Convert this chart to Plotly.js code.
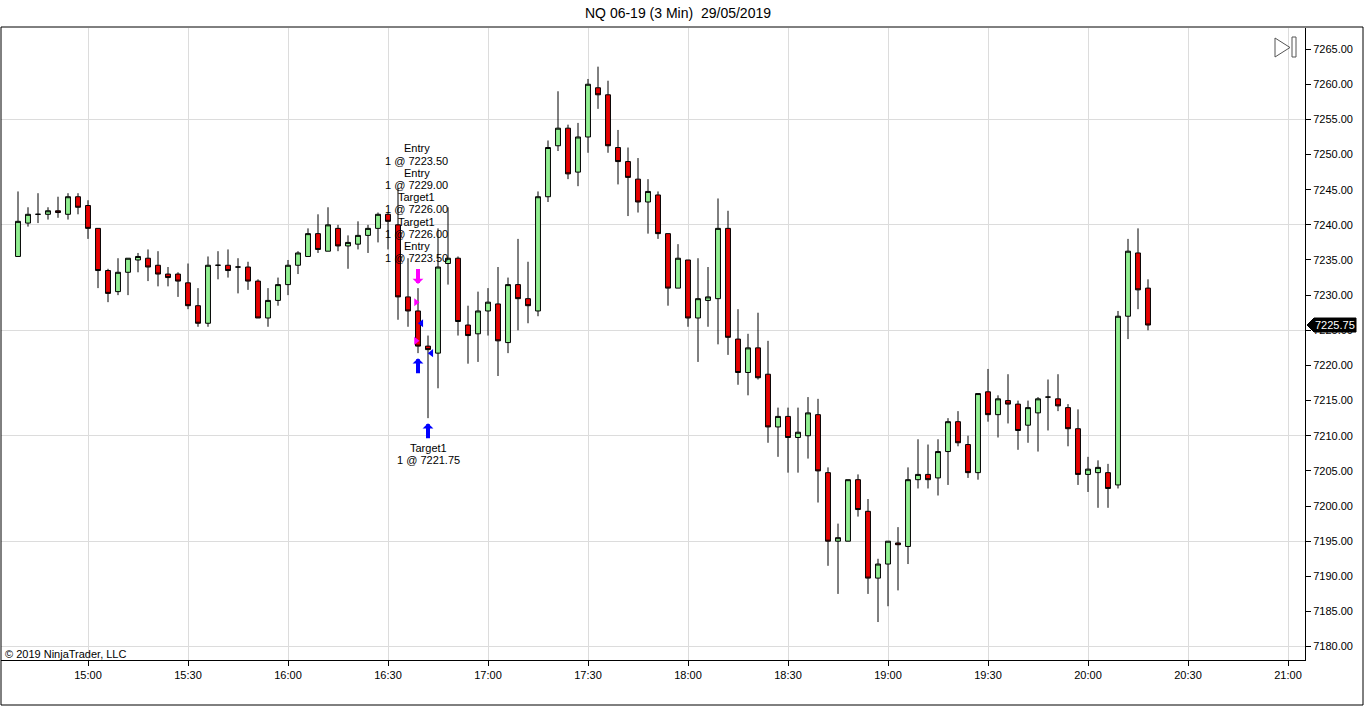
<!DOCTYPE html>
<html><head><meta charset="utf-8">
<script src="https://cdn.plot.ly/plotly-3.0.1.min.js"></script>
<style>html,body{margin:0;padding:0;background:#fff;}#chart{width:1366px;height:706px;}</style>
</head><body><div id="chart"></div>
<script>
const day = '2019-05-29 ';
const times = ['14:39','14:42','14:45','14:48','14:51','14:54','14:57',
'15:00','15:03','15:06','15:09','15:12','15:15','15:18','15:21','15:24','15:27','15:30','15:33','15:36','15:39','15:42','15:45','15:48','15:51','15:54','15:57',
'16:00','16:03','16:06','16:09','16:12','16:15','16:18','16:21','16:24','16:27','16:30','16:33','16:36','16:39','16:42','16:45','16:48','16:51','16:54','16:57',
'17:00','17:03','17:06','17:09','17:12','17:15','17:18','17:21','17:24','17:27','17:30','17:33','17:36','17:39','17:42','17:45','17:48','17:51','17:54','17:57',
'18:00','18:03','18:06','18:09','18:12','18:15','18:18','18:21','18:24','18:27','18:30','18:33','18:36','18:39','18:42','18:45','18:48','18:51','18:54','18:57',
'19:00','19:03','19:06','19:09','19:12','19:15','19:18','19:21','19:24','19:27','19:30','19:33','19:36','19:39','19:42','19:45','19:48','19:51','19:54','19:57',
'20:00','20:03','20:06','20:09','20:12','20:15','20:18'];

const open = [7235.5,7240.25,7241.5,7241.5,7242,7241.5,7244,
7242.75,7239.5,7233.5,7230.5,7233.25,7235,7235.25,7234.25,7233,7233,
7231.75,7228.5,7226,7234.25,7234.25,7234,7234,7232,7226.75,7229.25,
7231.5,7234.25,7235.5,7238.75,7236.25,7239.5,7237,7237.25,7238.5,7239.5,
7241.5,7240,7229.75,7227.75,7222.75,7221.75,7234.5,7235.25,7225.75,7224.5,
7227.75,7228.75,7223.25,7231.5,7229.5,7227.75,7244,7251.25,7253.75,7247.5,
7252.5,7259.5,7258.5,7251,7249,7246.5,7243.25,7244.25,7238.75,7231,
7235,7226.75,7229.25,7229.5,7239.5,7223.75,7219,7222.5,7218.75,7211.25,
7212.75,7209.75,7210,7213,7204.75,7195,7195,7203.75,7199.25,7189.75,
7191.75,7194.75,7194.25,7203.75,7204.5,7204,7207.75,7212,7208.75,7204.75,
7216.25,7213,7215,7214.5,7211.5,7213.25,7215.5,7215.25,7214,7211,
7204.5,7204.75,7204.75,7203,7227,7236,7231];

const high = [7244.75,7242.5,7244.5,7242.5,7244,7244.5,7244.5,
7243.5,7239.5,7233.75,7235.25,7235.25,7236,7236.5,7236.25,7234,7233.25,
7234.5,7231,7235.5,7236.25,7236.5,7235.25,7234.75,7232.25,7231,7232.5,
7235,7236.25,7239.5,7241.5,7242.5,7240,7238.5,7240.5,7240,7241.75,
7241.75,7245.25,7235.25,7231,7224.25,7239.5,7242.5,7235.5,7228.5,7230.5,
7231,7234,7232.5,7238,7234.75,7244.75,7252,7259,7254.25,7254.5,
7260.75,7262.5,7260.5,7253.5,7251,7249.5,7246.5,7244.75,7238.75,7237.25,
7235,7235.25,7234,7243.75,7242,7228,7224.5,7227.5,7223.5,7214,
7214,7214,7215.5,7215.25,7205.5,7197.5,7203.75,7204.5,7201,7192.5,
7195,7197,7205.5,7209.5,7208.75,7209.5,7212.5,7213.5,7210,7216,
7219.5,7215.75,7218.75,7215,7215,7215.5,7218,7218.75,7214.5,7213.75,
7207,7206.5,7206,7227.75,7238,7239.5,7232.25];

const low = [7235.5,7239.75,7240.25,7240.75,7241,7240.75,7241.5,
7238,7231,7229,7230,7230,7233.25,7232,7231.25,7231.25,7229.75,
7228,7225.5,7225.5,7232.25,7232.5,7230.25,7230.75,7226.75,7225.5,7228.5,
7230,7233,7235.5,7236,7236.25,7236.25,7233.75,7236.5,7236,7237.5,
7236.5,7226.5,7225.5,7221.75,7212.5,7216.75,7231.5,7224.25,7220.25,7220.5,
7224.25,7218.5,7221.75,7225,7226,7227,7243.25,7250.5,7246.5,7245.5,
7250.25,7256.5,7250.25,7245.75,7241.25,7241.75,7238.75,7238,7228.5,7231,
7225.5,7220.5,7225.5,7223,7221.5,7217.25,7215.75,7218,7209,7207,
7204.75,7204.75,7206.75,7200.5,7191.5,7187.5,7195,7198.5,7187.5,7183.5,
7185.75,7188,7191.75,7202.5,7202.5,7201.5,7203,7208.5,7204,7203.75,
7212,7209.75,7211.75,7208,7209,7207.75,7210.75,7213.5,7208.5,7203,
7202,7199.75,7199.75,7202.5,7223.75,7228,7225];

const close = [7240.5,7241.5,7241.5,7242,7241.75,7244,7242.5,
7239.5,7233.5,7230.25,7233.25,7235.25,7235.5,7234,7233,7232.5,7232,
7228.5,7226,7234.25,7234.25,7233.5,7234,7232,7226.75,7229.25,7231.5,
7234.25,7236,7238.75,7236.5,7240,7237,7237.5,7238.5,7239.5,7241.5,
7240.5,7229.75,7227.75,7222.75,7222.25,7234,7235.25,7226.25,7224.25,7227.75,
7229,7223.5,7231.5,7229.5,7228.5,7244,7251,7253.75,7247.25,7252.5,
7260,7258.5,7251.25,7249,7246.75,7243.25,7244.75,7238.75,7231,7235.25,
7226.75,7229.5,7229.75,7239.5,7224,7219,7222.5,7218.25,7211.25,7212.75,
7209.75,7210.5,7213.25,7205,7195,7195.5,7203.75,7199.5,7189.75,7191.75,
7195,7194.5,7203.75,7204.5,7203.75,7207.75,7212,7209,7204.75,7216,
7213,7215.25,7214.5,7210.75,7214,7215.25,7215.5,7214.25,7211,7204.5,
7205.25,7205.5,7202.5,7227,7236.25,7230.75,7225.75];

// trade executions
const tradeBars = [40, 40, 40, 41];
const tradePrices = [7229.00, 7226.00, 7223.50, 7221.75];
const tradeKinds = ['entry', 'exit', 'entry', 'exit'];
const arrowDownBars = [40];
const arrowUpBars = [40, 41];
const labelsTopBar = 40;
const labelsTop = ['Entry','1 @ 7223.50','Entry','1 @ 7229.00','Target1','1 @ 7226.00','Target1','1 @ 7226.00','Entry','1 @ 7223.50'];
const labelsBottomBar = 41;
const labelsBottom = ['Target1','1 @ 7221.75'];

const titleText = 'NQ 06-19 (3 Min)\u00a0 29/05/2019';
const copyrightText = '\u00a9 2019 NinjaTrader, LLC';

// ---------- layout helpers ----------
const W = 1366, H = 706, M = {l: 1, r: 61, t: 28, b: 46};
const pw = W - M.l - M.r, ph = H - M.t - M.b;
const yRange = [7178.1, 7268.0];
const xRange = [day + '14:33:54', day + '21:05:06'];
const pxPerPt = ph / (yRange[1] - yRange[0]);
const FONT = 'Arial, "Liberation Sans", sans-serif';
const GRID = '#dcdcdc';
const px2x = px => (px - M.l) / pw;
const px2y = py => (H - M.b - py) / ph;
function shiftTime(t, min) {
  const d = new Date('2019-05-29T' + t + ':00Z');
  d.setTime(d.getTime() + min * 60000);
  return d.toISOString().slice(0, 19).replace('T', ' ');
}

const x = times.map(t => day + t);

const candles = {
  type: 'candlestick', x: x, open: open, high: high, low: low, close: close,
  increasing: {fillcolor: '#90EE90', line: {color: '#000', width: 1}},
  decreasing: {fillcolor: '#E60000', line: {color: '#000', width: 1}},
  whiskerwidth: 0, hoverinfo: 'skip', showlegend: false
};
const gridDummy = {type: 'scatter', x: [], y: [], yaxis: 'y2', hoverinfo: 'skip', showlegend: false};

const entryIdx = tradeKinds.map((k, i) => k === 'entry' ? i : -1).filter(i => i >= 0);
const exitIdx = tradeKinds.map((k, i) => k === 'exit' ? i : -1).filter(i => i >= 0);
const entries = {
  type: 'scatter', mode: 'markers', hoverinfo: 'skip', showlegend: false, cliponaxis: false,
  x: entryIdx.map(i => shiftTime(times[tradeBars[i]], -0.6)),
  y: entryIdx.map(i => tradePrices[i]),
  marker: {symbol: 'triangle-right', size: 7, color: '#FF00FF', line: {width: 0}}
};
const exits = {
  type: 'scatter', mode: 'markers', hoverinfo: 'skip', showlegend: false, cliponaxis: false,
  x: exitIdx.map(i => shiftTime(times[tradeBars[i]], 1.0)),
  y: exitIdx.map(i => tradePrices[i]),
  marker: {symbol: 'triangle-left', size: 7, color: '#0000FF', line: {width: 0}}
};

const annotations = [];
arrowDownBars.forEach(b => annotations.push({
  x: x[b], y: high[b], xref: 'x', yref: 'y', text: ' ', showarrow: true,
  arrowhead: 1, arrowsize: 0.45, arrowwidth: 4, arrowcolor: '#FF00FF',
  ax: 0, ay: -16, yshift: 4, font: {size: 1}, borderpad: 0, standoff: 0
}));
arrowUpBars.forEach(b => annotations.push({
  x: x[b], y: low[b], xref: 'x', yref: 'y', text: ' ', showarrow: true,
  arrowhead: 1, arrowsize: 0.45, arrowwidth: 4, arrowcolor: '#0000FF',
  ax: 0, ay: 16, yshift: -5, font: {size: 1}, borderpad: 0, standoff: 0
}));
labelsTop.forEach((t, k) => annotations.push({
  x: x[labelsTopBar], y: high[labelsTopBar], xref: 'x', yref: 'y', text: t, showarrow: false,
  xanchor: 'center', yanchor: 'middle', xshift: -1.5, yshift: 30 + (labelsTop.length - 1 - k) * 12.2,
  font: {size: 11, family: FONT, color: '#000'}
}));
labelsBottom.forEach((t, k) => annotations.push({
  x: x[labelsBottomBar], y: low[labelsBottomBar], xref: 'x', yref: 'y', text: t, showarrow: false,
  xanchor: 'center', yanchor: 'middle', yshift: -(30 + k * 12),
  font: {size: 11, family: FONT, color: '#000'}
}));
annotations.push({
  xref: 'paper', yref: 'paper', x: px2x(3), y: px2y(654), xanchor: 'left', yanchor: 'middle',
  text: copyrightText, showarrow: false, font: {size: 11, family: FONT, color: '#000'}
});
const lastClose = close[close.length - 1];
annotations.push({
  xref: 'paper', yref: 'y', x: px2x(1335), y: lastClose, xanchor: 'center', yanchor: 'middle',
  text: lastClose.toFixed(2), showarrow: false, font: {size: 11, family: FONT, color: '#fff'}
});

const hTag = 7 / pxPerPt;
const shapes = [
  {type: 'rect', xref: 'paper', yref: 'paper', x0: px2x(1), x1: px2x(1363), y0: px2y(705), y1: px2y(27),
   line: {color: '#000', width: 1}, fillcolor: 'rgba(0,0,0,0)', layer: 'above'},
  {type: 'path', xref: 'paper', yref: 'y',
   path: 'M' + px2x(1307) + ',' + lastClose + ' L' + px2x(1314) + ',' + (lastClose + hTag) +
         ' L' + px2x(1356) + ',' + (lastClose + hTag) + ' L' + px2x(1356) + ',' + (lastClose - hTag) +
         ' L' + px2x(1314) + ',' + (lastClose - hTag) + ' Z',
   fillcolor: '#000', line: {color: '#000', width: 1}, layer: 'above'},
  {type: 'path', xref: 'paper', yref: 'paper',
   path: 'M' + px2x(1275) + ',' + px2y(38) + ' L' + px2x(1275) + ',' + px2y(57) + ' L' + px2x(1290) + ',' + px2y(47.5) + ' Z',
   fillcolor: 'rgba(0,0,0,0)', line: {color: '#555', width: 1}, layer: 'above'},
  {type: 'rect', xref: 'paper', yref: 'paper', x0: px2x(1292), x1: px2x(1296), y0: px2y(57), y1: px2y(37),
   fillcolor: 'rgba(0,0,0,0)', line: {color: '#555', width: 1}, layer: 'above'}
];

const layout = {
  width: W, height: H, margin: M, paper_bgcolor: '#fff', plot_bgcolor: '#fff',
  font: {family: FONT, size: 11, color: '#000'},
  title: {text: titleText, x: 678 / W, xref: 'container', xanchor: 'center',
          y: 1 - 13 / H, yref: 'container', yanchor: 'middle', font: {size: 14, family: FONT, color: '#000'}},
  showlegend: false, dragmode: false, hovermode: false,
  xaxis: {type: 'date', range: xRange, tick0: day + '15:00', dtick: 1800000, tickformat: '%H:%M',
          showgrid: true, gridcolor: GRID, gridwidth: 1, ticks: 'outside', ticklen: 5, tickcolor: '#000',
          showline: true, linecolor: '#000', linewidth: 1, zeroline: false,
          rangeslider: {visible: false}, tickfont: {size: 11, family: FONT, color: '#000'}},
  yaxis: {range: yRange, side: 'right', tick0: 7180, dtick: 5, tickformat: '.2f',
          ticks: 'outside', ticklen: 5, tickcolor: '#000', showgrid: false,
          showline: true, linecolor: '#000', linewidth: 1, zeroline: false,
          tickfont: {size: 11, family: FONT, color: '#000'}},
  yaxis2: {range: yRange, overlaying: 'y', side: 'left', tick0: 7180, dtick: 15,
           showgrid: true, gridcolor: GRID, gridwidth: 1, showticklabels: false, ticks: '',
           showline: false, zeroline: false},
  annotations: annotations, shapes: shapes
};

Plotly.newPlot('chart', [gridDummy, candles, entries, exits], layout, {displayModeBar: false, staticPlot: true});
</script></body></html>
